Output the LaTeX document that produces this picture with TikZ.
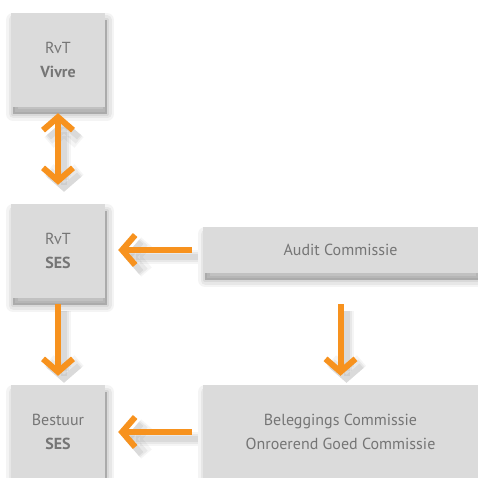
\documentclass[tikz,border=0pt]{standalone}
\usepackage{fontspec}
\setmainfont{PT Sans}
\usetikzlibrary{arrows.meta}
\definecolor{boxgray}{HTML}{DBDBDB}
\definecolor{txtgray}{HTML}{757575}
\definecolor{orng}{HTML}{F7921E}
\tikzset{
  bshadow/.style={
    preaction={draw=black, fill=black, opacity=0.045, line width=14pt, line join=round, transform canvas={shift={(2pt,-7pt)}}},
    preaction={draw=black, fill=black, opacity=0.05, line width=9pt, line join=round, transform canvas={shift={(2pt,-7pt)}}},
    preaction={draw=black, fill=black, opacity=0.06, line width=4pt, line join=round, transform canvas={shift={(2pt,-7pt)}}},
    preaction={fill=black, opacity=0.07, transform canvas={shift={(2pt,-7pt)}}}},
  box/.style={bshadow, fill=boxgray, draw=none, inner sep=0pt, text=txtgray, align=center,
    font=\fontsize{16}{24}\selectfont},
  ashadow/.style={
    preaction={draw=black, draw opacity=0.04, line width=14pt, transform canvas={shift={(6pt,-7pt)}}},
    preaction={draw=black, draw opacity=0.05, line width=10pt, transform canvas={shift={(6pt,-7pt)}}},
    preaction={draw=black, draw opacity=0.06, line width=6pt, transform canvas={shift={(6pt,-7pt)}}}},
  conn/.style={ashadow, draw=orng, line width=6pt,
    -{Straight Barb[length=13pt,width=30pt]}},
  dconn/.style={ashadow, draw=orng, line width=6pt,
    {Straight Barb[length=13pt,width=30pt]}-{Straight Barb[length=13pt,width=30pt]}},
}
\begin{document}
\begin{tikzpicture}[x=1pt,y=1pt]
\useasboundingbox[fill=white] (0,0) rectangle (478,477);
\node[box, minimum width=94pt, minimum height=94pt] (vivre) at (58,417) {RvT\\\textbf{Vivre}};
\node[box, minimum width=94pt, minimum height=94pt] (ses) at (58,226) {RvT\\\textbf{SES}};
\node[box, minimum width=94pt, minimum height=94pt] (bestuur) at (58,45) {Bestuur\\\textbf{SES}};
\node[box, minimum width=275pt, minimum height=46pt] (audit) at (340.5,227) {Audit Commissie};
\node[box, minimum width=275pt, minimum height=94pt] (beleg) at (340.5,45) {Beleggings Commissie\\Onroerend Goed Commissie};
\draw[dconn, shorten <=6pt, shorten >=19pt] (vivre.south) -- (ses.north);
\draw[conn, shorten <=6pt, shorten >=9pt] (ses.south) -- (bestuur.north);
\draw[conn, shorten <=11pt, shorten >=13pt] (audit.west) -- (ses.east |- audit.west);
\draw[conn, shorten <=11pt, shorten >=13pt] (beleg.west) -- (bestuur.east |- beleg.west);
\draw[conn, shorten <=31pt, shorten >=9pt] (audit.south) -- (beleg.north);
\end{tikzpicture}
\end{document}
